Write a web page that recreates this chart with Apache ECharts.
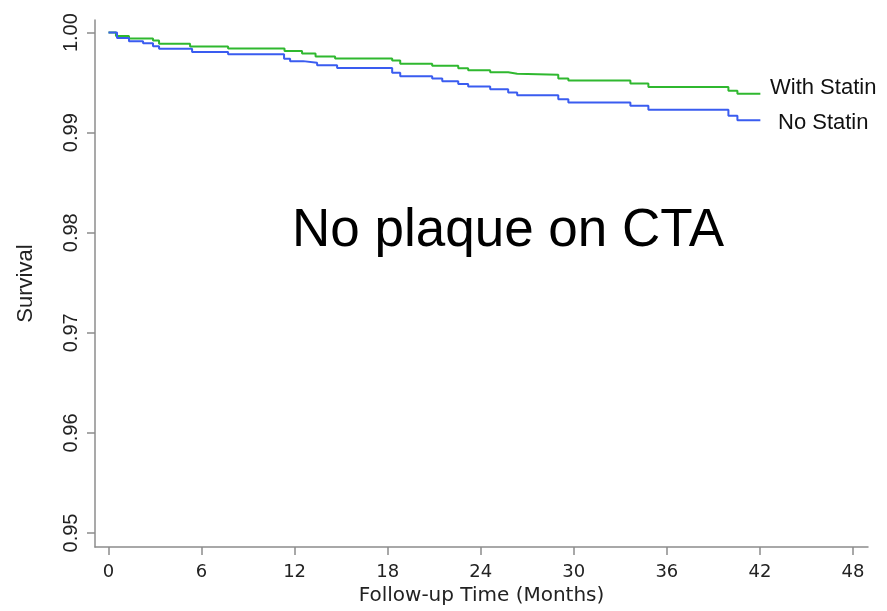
<!DOCTYPE html>
<html>
<head>
<meta charset="utf-8">
<script src="https://cdn.jsdelivr.net/npm/echarts@6/dist/echarts.min.js"></script>
<style>
  html, body { margin: 0; padding: 0; background: #fff; }
  #chart { width: 887px; height: 611px; }
</style>
</head>
<body>
<div id="chart"></div>
<script>
// step times (months) where survival drops
var statinTimes = [0, 0.48, 1.32, 2.87, 3.26, 5.26, 7.71, 11.35, 12.48, 13.35, 14.61, 18.29, 18.81, 20.87, 22.55, 23.19, 24.61, 25.77, 26.35, 29.0, 29.65, 33.65, 34.81, 39.97, 40.55, 42.03];
var statinSurv = [1.0, 0.99967, 0.9994, 0.9992, 0.99888, 0.99861, 0.99841, 0.99815, 0.99791, 0.99762, 0.99742, 0.99722, 0.9969, 0.9967, 0.99643, 0.99623, 0.99603, 0.9959, 0.9958, 0.99541, 0.99521, 0.99491, 0.99457, 0.99418, 0.99388, 0.99388];

var noStatinTimes = [0, 0.55, 1.32, 2.23, 2.87, 3.26, 5.39, 7.71, 11.32, 11.71, 12.55, 13.45, 14.74, 18.29, 18.81, 20.87, 21.52, 22.55, 23.19, 24.61, 25.77, 26.35, 29.0, 29.65, 33.65, 34.81, 39.97, 40.55, 42.03];
var noStatinSurv = [1.0, 0.99947, 0.99914, 0.99894, 0.99864, 0.99838, 0.99805, 0.99785, 0.99739, 0.99715, 0.99699, 0.99673, 0.99646, 0.996, 0.99563, 0.99541, 0.99514, 0.99487, 0.99461, 0.99435, 0.99402, 0.99375, 0.99335, 0.99302, 0.99269, 0.99229, 0.99169, 0.99124, 0.99124];

var xTicks = [0, 6, 12, 18, 24, 30, 36, 42, 48];
var yTicks = [0.95, 0.96, 0.97, 0.98, 0.99, 1.00];

function pairs(xs, ys) {
  return xs.map(function (x, i) { return [x, ys[i]]; });
}

var myChart = echarts.init(document.getElementById("chart"));
var axisGray = "#8c8c8c";
var option = {
  animation: false,
  grid: { left: 95, right: 19, top: 20, bottom: 59 },
  xAxis: {
    type: "value",
    min: -0.87,
    max: 48.97,
    name: "Follow-up Time (Months)",
    nameLocation: "middle",
    nameGap: 37,
    nameTextStyle: { fontFamily: "DejaVu Sans", fontSize: 20, color: "#222" },
    axisLine: { onZero: false, lineStyle: { color: axisGray, width: 1.5 } },
    axisTick: { customValues: xTicks, length: 8, lineStyle: { color: axisGray, width: 1.5 } },
    axisLabel: { customValues: xTicks, margin: 16, fontFamily: "DejaVu Sans", fontSize: 18, color: "#222" },
    splitLine: { show: false }
  },
  yAxis: {
    type: "value",
    min: 0.94859,
    max: 1.00126,
    name: "Survival",
    nameLocation: "middle",
    nameGap: 58,
    nameRotate: 90,
    nameTextStyle: { fontFamily: "Liberation Sans", fontSize: 22, color: "#222" },
    axisLine: { show: true, onZero: false, lineStyle: { color: axisGray, width: 1.5 } },
    axisTick: { show: true, customValues: yTicks, length: 8, lineStyle: { color: axisGray, width: 1.5 } },
    axisLabel: {
      customValues: yTicks,
      rotate: 90,
      margin: 14,
      fontFamily: "Liberation Sans",
      fontSize: 20,
      color: "#222",
      formatter: function (v) { return v.toFixed(2); }
    },
    splitLine: { show: false }
  },
  series: [
    {
      name: "With Statin",
      type: "line",
      step: "end",
      symbol: "none",
      data: pairs(statinTimes, statinSurv),
      lineStyle: { color: "#2fb82f", width: 2 }
    },
    {
      name: "No Statin",
      type: "line",
      step: "end",
      symbol: "none",
      data: pairs(noStatinTimes, noStatinSurv),
      lineStyle: { color: "#3a5cf0", width: 2 }
    }
  ],
  graphic: [
    { type: "text", left: 770, top: 77, style: { text: "With Statin", fontFamily: "Liberation Sans", fontSize: 22, fill: "#111" } },
    { type: "text", left: 778, top: 112, style: { text: "No Statin", fontFamily: "Liberation Sans", fontSize: 22, fill: "#111" } },
    { type: "text", left: 292, top: 205, style: { text: "No plaque on CTA", fontFamily: "Liberation Sans", fontSize: 53, fill: "#000" } }
  ]
};
myChart.setOption(option);
window.onresize = myChart.resize;
</script>
</body>
</html>
